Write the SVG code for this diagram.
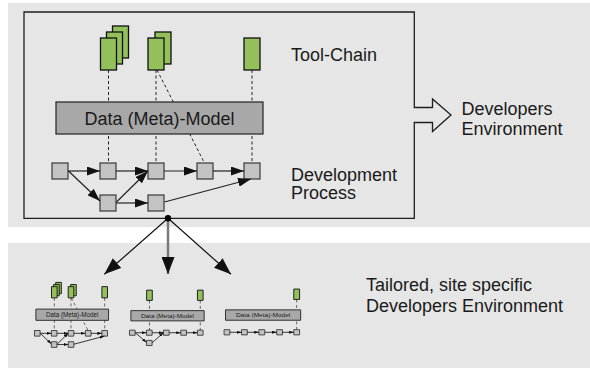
<svg xmlns="http://www.w3.org/2000/svg" xmlns:xlink="http://www.w3.org/1999/xlink" width="590" height="370" viewBox="0 0 590 370">
  <defs>
    <style>
      .panel { fill: #e6e6e6; }
      .frame { fill: none; stroke: #1e1e1e; stroke-width: 1.3; }
      .doc { fill: #93c05b; stroke: #111; stroke-width: 1.3; }
      .model { fill: #a8a8a8; stroke: #222; stroke-width: 1.2; }
      .step { fill: #c3c3c3; stroke: #3a3a3a; stroke-width: 1.2; }
      .flow { fill: none; stroke: #222; stroke-width: 1.2; marker-end: url(#ah); }
      .link { fill: none; stroke: #222; stroke-width: 1; stroke-dasharray: 3 2.5; }
      .fan { fill: none; stroke: #111; stroke-width: 1.2; marker-end: url(#ahBig); }
      .fan.main { stroke: #7a7a7a; stroke-width: 2.5; }
      .label { font-family: "Liberation Sans", Arial, sans-serif; font-size: 18px; fill: #1a1a1a; }
      .mtext { font-family: "Liberation Sans", Arial, sans-serif; font-size: 18px; fill: #1a1a1a; text-anchor: middle; }
      .mini rect, .mini line { vector-effect: non-scaling-stroke; }
      .mini .doc, .mini .model, .mini .step { stroke-width: 0.9; }
      .mini .flow { stroke-width: 0.9; }
      .mini .link { stroke-width: 0.8; stroke: #444; }
    </style>
    <marker id="ah" markerUnits="userSpaceOnUse" markerWidth="13" markerHeight="9" refX="13" refY="4.5" orient="auto">
      <path d="M0,0 L13,4.5 L0,9 Z" fill="#111"/>
    </marker>
    <marker id="ahBig" markerUnits="userSpaceOnUse" markerWidth="17" markerHeight="13" refX="17" refY="6.5" orient="auto">
      <path d="M0,0 L17,6.5 L0,13 Z" fill="#111"/>
    </marker>
  </defs>

  <!-- background panels -->
  <rect class="panel" x="8" y="3" width="582" height="224"/>
  <rect class="panel" x="8" y="243" width="582" height="125"/>

  <!-- frame of the developers environment, opening into the outgoing block arrow -->
  <path id="environment-frame" class="frame" d="M414.3,122.5 V218.3 H24 V12 H414.3 V107.5 H432.5 V99 L451,115 L432.5,131.5 V122.5 Z"/>

  <!-- main environment -->
  <g id="main-links">
    <line class="link" x1="108.5" y1="70" x2="108.5" y2="163"/>
    <line class="link" x1="156" y1="70" x2="156" y2="163"/>
    <line class="link" x1="252" y1="70" x2="252" y2="163"/>
    <line class="link" x1="157" y1="70" x2="204.5" y2="163"/>
  </g>
  <g id="tool-1">
    <rect class="doc" x="112.5" y="26" width="16" height="32"/>
    <rect class="doc" x="106.5" y="32" width="16" height="32"/>
    <rect class="doc" x="100.5" y="38" width="16" height="32"/>
  </g>
  <g id="tool-2">
    <rect class="doc" x="155" y="32" width="16" height="32"/>
    <rect class="doc" x="148" y="38" width="16" height="32"/>
  </g>
  <g id="tool-3">
    <rect class="doc" x="244" y="38" width="16" height="32"/>
  </g>
  <g id="data-model">
    <rect class="model" x="56" y="102" width="207" height="32"/>
    <text class="mtext" x="159.5" y="124.5">Data (Meta)-Model</text>
  </g>
  <g id="step-1"><rect class="step" x="52" y="163" width="16" height="16"/></g>
  <g id="step-2"><rect class="step" x="100" y="163" width="16" height="16"/></g>
  <g id="step-3"><rect class="step" x="148" y="163" width="16" height="16"/></g>
  <g id="step-4"><rect class="step" x="197" y="163" width="16" height="16"/></g>
  <g id="step-5"><rect class="step" x="244" y="163" width="16" height="16"/></g>
  <g id="step-6"><rect class="step" x="100" y="195" width="16" height="16"/></g>
  <g id="step-7"><rect class="step" x="148" y="195" width="16" height="16"/></g>
  <g id="main-flows">
    <line class="flow" x1="68" y1="171" x2="100" y2="171"/>
    <line class="flow" x1="116" y1="171" x2="148" y2="171"/>
    <line class="flow" x1="164" y1="171" x2="197" y2="171"/>
    <line class="flow" x1="213" y1="171" x2="244" y2="171"/>
    <line class="flow" x1="68.5" y1="171" x2="100" y2="201"/>
    <line class="flow" x1="116.5" y1="202" x2="148" y2="171"/>
    <line class="flow" x1="116" y1="203" x2="148" y2="203"/>
    <line class="flow" x1="164.5" y1="202" x2="251" y2="179"/>
  </g>

  <!-- labels -->
  <g id="labels">
    <text class="label" x="291" y="61.3">Tool-Chain</text>
    <text class="label" x="291" y="180.5">Development</text>
    <text class="label" x="291" y="199.2">Process</text>
    <text class="label" x="461.5" y="115">Developers</text>
    <text class="label" x="461.5" y="135">Environment</text>
    <text class="label" x="366" y="290.7">Tailored, site specific</text>
    <text class="label" x="366" y="312.3">Developers Environment</text>
  </g>

  <!-- fan-out to the tailored environments -->
  <g id="fan-out">
    <line class="fan" x1="168" y1="218.3" x2="104.3" y2="274.3"/>
    <line class="fan main" x1="168" y1="218.3" x2="168" y2="274"/>
    <line class="fan" x1="168" y1="218.3" x2="231" y2="274.3"/>
    <circle cx="168" cy="218.3" r="3.2" fill="#000"/>
  </g>

  <!-- tailored environment 1: full tool-chain -->
  <g id="tailored-1" class="mini" transform="translate(16.24 273.3) scale(0.351)">
    <line class="link" x1="108.5" y1="70" x2="108.5" y2="163"/>
    <line class="link" x1="156" y1="70" x2="156" y2="163"/>
    <line class="link" x1="252" y1="70" x2="252" y2="163"/>
    <line class="link" x1="157" y1="70" x2="204.5" y2="163"/>
    <rect class="doc" x="112.5" y="26" width="16" height="32"/>
    <rect class="doc" x="106.5" y="32" width="16" height="32"/>
    <rect class="doc" x="100.5" y="38" width="16" height="32"/>
    <rect class="doc" x="155" y="32" width="16" height="32"/>
    <rect class="doc" x="148" y="38" width="16" height="32"/>
    <rect class="doc" x="244" y="38" width="16" height="32"/>
    <rect class="model" x="56" y="102" width="207" height="32"/>
    <text class="mtext" x="159.5" y="124.5">Data (Meta)-Model</text>
    <rect class="step" x="52" y="163" width="16" height="16"/>
    <rect class="step" x="100" y="163" width="16" height="16"/>
    <rect class="step" x="148" y="163" width="16" height="16"/>
    <rect class="step" x="197" y="163" width="16" height="16"/>
    <rect class="step" x="244" y="163" width="16" height="16"/>
    <rect class="step" x="100" y="195" width="16" height="16"/>
    <rect class="step" x="148" y="195" width="16" height="16"/>
    <line class="flow" x1="68" y1="171" x2="100" y2="171"/>
    <line class="flow" x1="116" y1="171" x2="148" y2="171"/>
    <line class="flow" x1="164" y1="171" x2="197" y2="171"/>
    <line class="flow" x1="213" y1="171" x2="244" y2="171"/>
    <line class="flow" x1="68.5" y1="171" x2="100" y2="201"/>
    <line class="flow" x1="116.5" y1="202" x2="148" y2="171"/>
    <line class="flow" x1="116" y1="203" x2="148" y2="203"/>
    <line class="flow" x1="164.5" y1="202" x2="251" y2="179"/>
  </g>

  <!-- tailored environment 2: two tools -->
  <g id="tailored-2" class="mini" transform="translate(111.06 278) scale(0.354 0.32)">
    <line class="link" x1="108.5" y1="70" x2="108.5" y2="163"/>
    <line class="link" x1="252" y1="70" x2="252" y2="163"/>
    <rect class="doc" x="100.5" y="38" width="16" height="32"/>
    <rect class="doc" x="244" y="38" width="16" height="32"/>
    <rect class="model" x="56" y="102" width="207" height="32"/>
    <text class="mtext" x="159.5" y="124.5">Data (Meta)-Model</text>
    <rect class="step" x="52" y="163" width="16" height="16"/>
    <rect class="step" x="100" y="163" width="16" height="16"/>
    <rect class="step" x="148" y="163" width="16" height="16"/>
    <rect class="step" x="197" y="163" width="16" height="16"/>
    <rect class="step" x="244" y="163" width="16" height="16"/>
    <rect class="step" x="100" y="195" width="16" height="16"/>
    <line class="flow" x1="68" y1="171" x2="100" y2="171"/>
    <line class="flow" x1="116" y1="171" x2="148" y2="171"/>
    <line class="flow" x1="164" y1="171" x2="197" y2="171"/>
    <line class="flow" x1="213" y1="171" x2="244" y2="171"/>
    <line class="flow" x1="68.5" y1="171" x2="100" y2="201"/>
    <line class="flow" x1="116.5" y1="202" x2="148" y2="171"/>
  </g>

  <!-- tailored environment 3: single tool, linear process -->
  <g id="tailored-3" class="mini" transform="translate(205.2 276.7) scale(0.363 0.325)">
    <line class="link" x1="252" y1="70" x2="252" y2="163"/>
    <rect class="doc" x="244" y="38" width="16" height="32"/>
    <rect class="model" x="56" y="102" width="207" height="32"/>
    <text class="mtext" x="159.5" y="124.5">Data (Meta)-Model</text>
    <rect class="step" x="52" y="163" width="16" height="16"/>
    <rect class="step" x="100" y="163" width="16" height="16"/>
    <rect class="step" x="148" y="163" width="16" height="16"/>
    <rect class="step" x="197" y="163" width="16" height="16"/>
    <rect class="step" x="244" y="163" width="16" height="16"/>
    <line class="flow" x1="68" y1="171" x2="100" y2="171"/>
    <line class="flow" x1="116" y1="171" x2="148" y2="171"/>
    <line class="flow" x1="164" y1="171" x2="197" y2="171"/>
    <line class="flow" x1="213" y1="171" x2="244" y2="171"/>
  </g>
</svg>
